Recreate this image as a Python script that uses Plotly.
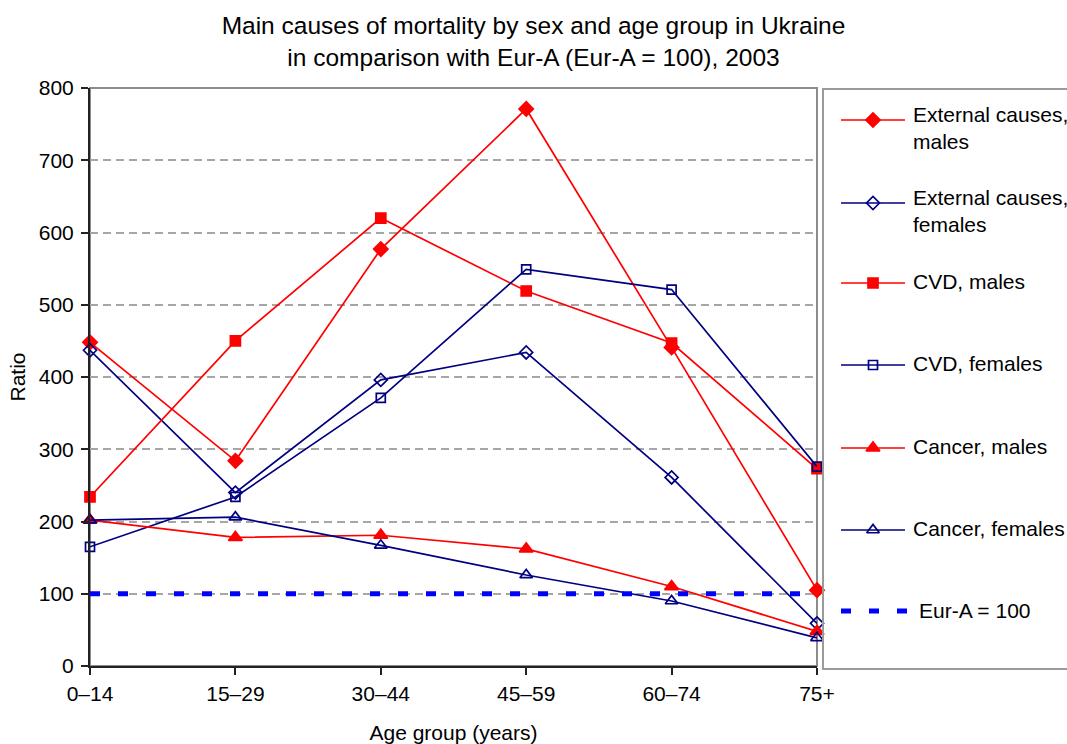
import plotly.graph_objects as go

# ---- data -------------------------------------------------------------
age_groups = ["0–14", "15–29", "30–44", "45–59", "60–74", "75+"]

external_males = [448, 284, 577, 771, 441, 105]
external_females = [437, 240, 396, 434, 261, 59]
cvd_males = [234, 450, 620, 519, 447, 273]
cvd_females = [165, 234, 371, 549, 521, 276]
cancer_males = [202, 178, 181, 162, 110, 48]
cancer_females = [202, 206, 167, 126, 90, 39]
eur_a = [100, 100, 100, 100, 100, 100]

y_ticks = [0, 100, 200, 300, 400, 500, 600, 700, 800]

RED = "#FF0000"
NAVY = "#000080"
BLUE = "#0000FF"
FONT = "Liberation Sans, Arial, sans-serif"

series = [
    ("External causes,<br>males", external_males, RED, "diamond", 11),
    ("External causes,<br>females", external_females, NAVY, "diamond-open", 10),
    ("CVD, males", cvd_males, RED, "square", 10),
    ("CVD, females", cvd_females, NAVY, "square-open", 9),
    ("Cancer, males", cancer_males, RED, "triangle-up", 12),
    ("Cancer, females", cancer_females, NAVY, "triangle-up-open", 11),
]

# ---- page geometry (pixels) --------------------------------------------
W, H = 1067, 744
ML, MT, MB = 90, 88, 78
PLOT_RIGHT = 817
LEG_LEFT = 823
paper_w = W - ML
paper_h = H - MT - MB


def px_x(x):
    return (x - ML) / paper_w


def px_y(y):
    return (H - MB - y) / paper_h


fig = go.Figure()

for name, vals, color, symbol, size in series:
    fig.add_trace(go.Scatter(
        x=age_groups, y=vals, mode="lines+markers", name=name.replace("<br>", " "),
        line=dict(color=color, width=1.7),
        marker=dict(symbol=symbol, size=size, color=color,
                    line=dict(color=color, width=1.7)),
        cliponaxis=False, showlegend=False,
    ))

fig.add_trace(go.Scatter(
    x=age_groups, y=eur_a, mode="lines", name="Eur-A = 100",
    line=dict(color=BLUE, width=5, dash="10px,18px"),
    showlegend=False,
))

# ---- legend panel on its own pixel-scaled axes -------------------------
LEG_FONT = 21
legend_rows = [120, 203, 283, 365, 448, 530, 611]
annotations = []
for (name, vals, color, symbol, size), ry in zip(series, legend_rows):
    fig.add_trace(go.Scatter(
        x=[841, 905], y=[ry, ry], mode="lines", xaxis="x2", yaxis="y2",
        line=dict(color=color, width=1.7), showlegend=False, hoverinfo="skip",
    ))
    fig.add_trace(go.Scatter(
        x=[873], y=[ry], mode="markers", xaxis="x2", yaxis="y2",
        marker=dict(symbol=symbol, size=size, color=color,
                    line=dict(color=color, width=1.7)),
        showlegend=False, hoverinfo="skip", cliponaxis=False,
    ))
    two_lines = "<br>" in name
    annotations.append(dict(
        x=911, y=ry - (19 if two_lines else 2), xref="x2", yref="y2",
        text=name, showarrow=False, xanchor="left",
        yanchor="top" if two_lines else "middle", align="left",
        font=dict(family=FONT, size=LEG_FONT, color="#000000"),
    ))

fig.add_trace(go.Scatter(
    x=[841, 910], y=[legend_rows[-1]] * 2, mode="lines", xaxis="x2", yaxis="y2",
    line=dict(color=BLUE, width=5, dash="10px,18px"),
    showlegend=False, hoverinfo="skip",
))
annotations.append(dict(
    x=917, y=legend_rows[-1] - 1, xref="x2", yref="y2", text="Eur-A = 100",
    showarrow=False, xanchor="left", yanchor="middle",
    font=dict(family=FONT, size=LEG_FONT, color="#000000"),
))

shapes = [
    # plot frame (top and right edges show in grey)
    dict(type="rect", xref="paper", yref="paper",
         x0=0, x1=px_x(PLOT_RIGHT), y0=0, y1=1,
         line=dict(color="#8c8c8c", width=2), layer="below"),
    # legend box
    dict(type="rect", xref="paper", yref="paper",
         x0=px_x(LEG_LEFT), x1=px_x(W + 5), y0=px_y(669), y1=px_y(89),
         line=dict(color="#9a9a9a", width=2), fillcolor="rgba(0,0,0,0)"),
]

fig.update_layout(
    width=W, height=H,
    margin=dict(l=ML, r=0, t=MT, b=MB, autoexpand=False),
    paper_bgcolor="white", plot_bgcolor="white",
    font=dict(family=FONT, color="#000000", size=21),
    title=dict(
        text="Main causes of mortality by sex and age group in Ukraine<br>"
             "in comparison with Eur-A (Eur-A = 100), 2003",
        x=0.5, xref="container", xanchor="center",
        y=1 - 34 / H, yref="container", yanchor="middle",
        font=dict(family=FONT, size=24.5, color="#000000"),
    ),
    xaxis=dict(
        domain=[0, px_x(PLOT_RIGHT)], type="category",
        range=[0, len(age_groups) - 1], automargin=False,
        showgrid=False, zeroline=False,
        showline=True, linecolor="#222222", linewidth=2,
        ticks="outside", ticklen=7, tickcolor="#222222", tickwidth=1.5,
        tickfont=dict(size=21), ticklabelstandoff=1,
        title=dict(text="Age group (years)", font=dict(size=21), standoff=22),
    ),
    yaxis=dict(
        domain=[0, 1], range=[0, 800], tickvals=y_ticks, automargin=False,
        showgrid=True, gridcolor="#a6a6a6", gridwidth=1.5, griddash="8px,5px",
        zeroline=False,
        showline=True, linecolor="#222222", linewidth=2,
        ticks="outside", ticklen=7, tickcolor="#222222", tickwidth=1.5,
        tickfont=dict(size=21), ticklabelstandoff=3,
        title=dict(text="Ratio", font=dict(size=21), standoff=7),
    ),
    xaxis2=dict(domain=[px_x(LEG_LEFT), 1], range=[LEG_LEFT, W],
                visible=False, anchor="y2", fixedrange=True, automargin=False),
    yaxis2=dict(domain=[0, 1], range=[H - MB, MT], visible=False,
                anchor="x2", fixedrange=True, automargin=False),
    shapes=shapes,
    annotations=annotations,
    showlegend=False,
)

fig.write_html("out.html")
